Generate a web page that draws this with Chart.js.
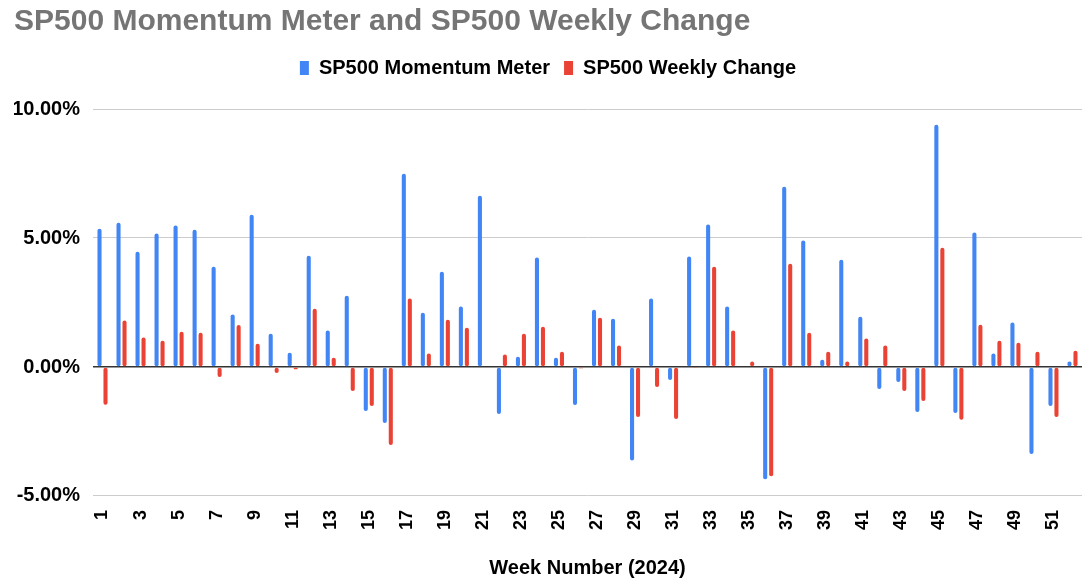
<!DOCTYPE html>
<html>
<head>
<meta charset="utf-8">
<script src="https://cdn.jsdelivr.net/npm/chart.js@4"></script>
<style>
  html, body { margin: 0; padding: 0; background: #fff; }
  #wrap { width: 1092px; height: 584px; }
</style>
</head>
<body>
<div id="wrap"><canvas id="grafico"></canvas></div>
<script>
// week numbers 1..52
const semanas = ['1','2','3','4','5','6','7','8','9','10','11','12','13','14','15','16','17','18','19','20',
  '21','22','23','24','25','26','27','28','29','30','31','32','33','34','35','36','37','38','39','40',
  '41','42','43','44','45','46','47','48','49','50','51','52']

// values in percent
const momentum = [5.36, 5.59, 4.47, 5.17, 5.48, 5.32, 3.89, 2.03, 5.90, 1.29,
  0.55, 4.31, 1.41, 2.76, -1.71, -2.17, 7.49, 2.10, 3.69, 2.34,
  6.64, -1.82, 0.40, 4.24, 0.36, -1.47, 2.22, 1.87, -3.62, 2.65,
  -0.50, 4.28, 5.52, 2.34, 0.03, -4.35, 6.99, 4.90, 0.28, 4.16,
  1.95, -0.85, -0.58, -1.74, 9.39, -1.78, 5.21, 0.52, 1.72, -3.37,
  -1.51, 0.21]

const semanal = [-1.46, 1.80, 1.14, 1.02, 1.37, 1.33, -0.39, 1.63, 0.90, -0.23,
  -0.09, 2.26, 0.36, -0.93, -1.51, -3.02, 2.65, 0.52, 1.83, 1.52,
  0.03, 0.48, 1.29, 1.56, 0.59, -0.05, 1.91, 0.83, -1.94, -0.78,
  -2.02, -0.02, 3.89, 1.41, 0.21, -4.24, 4.00, 1.33, 0.59, 0.21,
  1.10, 0.83, -0.93, -1.32, 4.62, -2.05, 1.64, 1.02, 0.94, 0.59,
  -1.94, 0.63]

const fuente = "Arial, 'Liberation Sans', sans-serif"

// a bit more room under the legend
const espacioLeyenda = {
  id: 'espacioLeyenda',
  beforeInit(chart) {
    const fit = chart.legend.fit
    chart.legend.fit = function () {
      fit.bind(chart.legend)()
      this.height += 21
    }
  }
}

window.addEventListener('load', () => {
  Chart.defaults.font.family = fuente
  Chart.defaults.color = '#000'

  new Chart(document.getElementById('grafico'), {
    type: 'bar',
    data: {
      labels: semanas,
      datasets: [{
        label: 'SP500 Momentum Meter',
        data: momentum,
        backgroundColor: '#4285F4',
        borderRadius: 2,
        borderSkipped: false
      }, {
        label: 'SP500 Weekly Change',
        data: semanal,
        backgroundColor: '#EA4335',
        borderRadius: 2,
        borderSkipped: false
      }]
    },
    options: {
      responsive: true,
      maintainAspectRatio: false,
      animation: false,
      layout: { padding: { left: 14, right: 10, top: 2, bottom: 4 } },
      datasets: {
        bar: { categoryPercentage: 0.63, barPercentage: 0.68 }
      },
      plugins: {
        title: {
          display: true,
          text: 'SP500 Momentum Meter and SP500 Weekly Change',
          align: 'start',
          color: '#757575',
          font: { size: 30, weight: 'bold' },
          padding: { top: 2, bottom: 4 }
        },
        legend: {
          labels: {
            boxWidth: 9,
            boxHeight: 14,
            font: { size: 20, weight: 'bold' },
            padding: 14
          }
        },
        tooltip: { enabled: false }
      },
      scales: {
        x: {
          grid: { display: false },
          border: { display: false },
          afterFit: (axis) => { axis.paddingRight = 0; axis.paddingLeft = 0 },
          ticks: {
            autoSkip: false,
            minRotation: 90,
            maxRotation: 90,
            padding: 6,
            font: { size: 18, weight: 'bold' },
            callback: function (v, i) { return i % 2 === 0 ? this.getLabelForValue(v) : '' }
          },
          title: {
            display: true,
            text: 'Week Number (2024)',
            font: { size: 20, weight: 'bold' },
            padding: { top: 20, bottom: 0 }
          }
        },
        y: {
          min: -5,
          max: 10,
          border: { display: false },
          afterFit: (axis) => { axis.width = 79 },
          grid: {
            color: (ctx) => ctx.tick && ctx.tick.value === 0 ? '#333' : '#ccc',
            lineWidth: (ctx) => ctx.tick && ctx.tick.value === 0 ? 1.5 : 1,
            drawTicks: false
          },
          ticks: {
            stepSize: 5,
            padding: 13,
            font: { size: 20, weight: 'bold' },
            callback: (v) => v.toFixed(2) + '%'
          }
        }
      }
    },
    plugins: [espacioLeyenda]
  })
})
</script>
</body>
</html>
